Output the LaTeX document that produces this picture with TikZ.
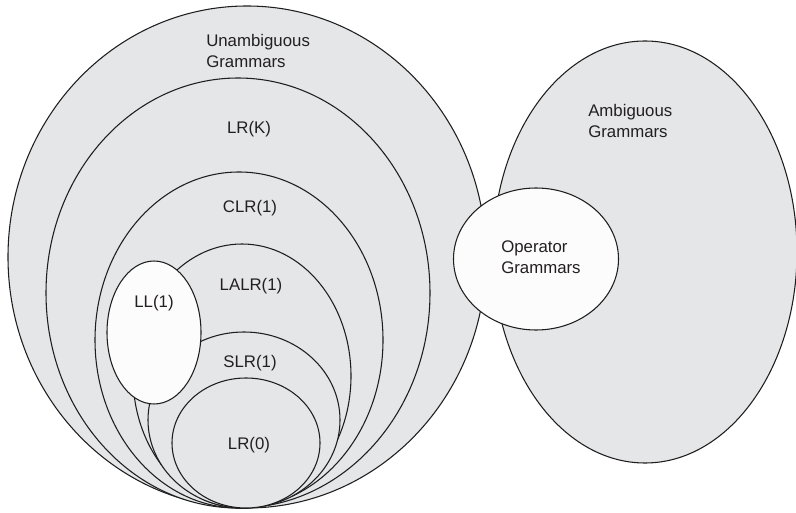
\documentclass[tikz,border=0pt]{standalone}
\usepackage{fontspec}
\setmainfont{Liberation Sans}
\usepackage{tikz}

\begin{document}
\begin{tikzpicture}[x=0.75pt,y=0.75pt,yscale=-1,xscale=1,
    grammarset/.style={draw={rgb, 255:red, 30; green, 30; blue, 30 }, line width=0.8pt, fill={rgb, 255:red, 229; green, 230; blue, 232 }},
    whiteset/.style={grammarset, fill={rgb, 255:red, 252; green, 252; blue, 252 }},
    setname/.style={inner sep=0.75pt, text={rgb, 255:red, 35; green, 31; blue, 32 }, font=\fontsize{12.6}{15.8}\selectfont, align=left}]
        \useasboundingbox (0,0) rectangle (796,513);

        %Shape: Ellipse (unambiguous)
        \draw [grammarset] (247,257) ellipse (239 and 251);
        %Shape: Ellipse (ambiguous)
        \draw [grammarset] (645,252) ellipse (152 and 211);
        %Shape: Ellipse (LR(K))
        \draw [grammarset] (238,293) ellipse (192 and 215);
        %Shape: Ellipse (CLR(1))
        \draw [grammarset] (239,340) ellipse (144 and 168);
        %Shape: Ellipse (LALR(1))
        \draw [grammarset] (242,376) ellipse (109 and 132);
        %Shape: Ellipse (SLR(1))
        \draw [grammarset] (244,420) ellipse (96 and 88);
        %Shape: Ellipse (LR(0))
        \draw [grammarset] (246,443) ellipse (74 and 65);
        %Shape: Ellipse (LL(1))
        \draw [whiteset] (154,332.5) ellipse (47 and 71.5);
        %Shape: Ellipse (operator)
        \draw [whiteset] (536,259) ellipse (82.5 and 71);

        % Text Node
        \node [setname, anchor=base west] (unamb) at (205,68) {Unambiguous\\Grammars};
        % Text Node
        \node [setname, anchor=base] (lrk) at (249,134) {LR(K)};
        % Text Node
        \node [setname, anchor=base] (clr) at (250,213) {CLR(1)};
        % Text Node
        \node [setname, anchor=base] (lalr) at (251,291) {LALR(1)};
        % Text Node
        \node [setname, anchor=base] (ll) at (154,307) {LL(1)};
        % Text Node
        \node [setname, anchor=base] (slr) at (250,368) {SLR(1)};
        % Text Node
        \node [setname, anchor=base] (lrzero) at (249,449) {LR(0)};
        % Text Node
        \node [setname, anchor=base west] (amb) at (587,138) {Ambiguous\\Grammars};
        % Text Node
        \node [setname, anchor=base west] (oper) at (500,274) {Operator\\Grammars};
\end{tikzpicture}
\end{document}
